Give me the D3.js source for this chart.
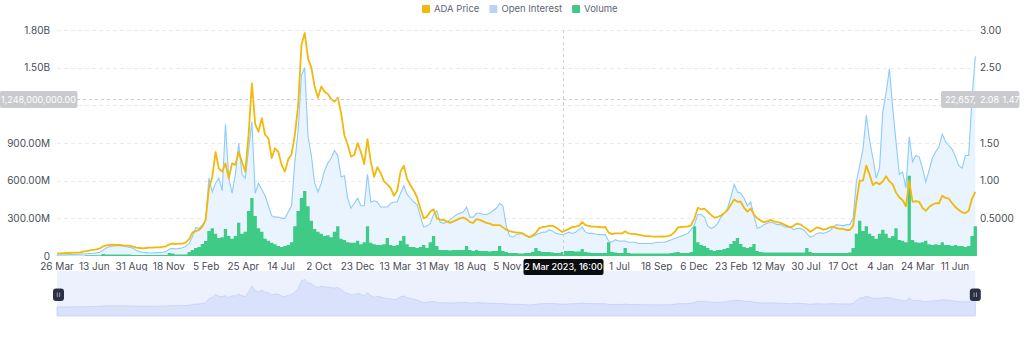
<!DOCTYPE html>
<html>
<head>
<meta charset="utf-8">
<script src="https://cdn.jsdelivr.net/npm/d3@7"></script>
<style>
  html, body { margin: 0; padding: 0; background: #fff; }
  svg { display: block; font-family: Inter, "Noto Sans", sans-serif; }
</style>
</head>
<body>
<svg id="chart" width="1024" height="339"></svg>
<script>
// Weekly samples starting 26 Mar 2020
const startDate = "2020-03-26";
const stepDays = 7;

// ADA price, USD (right axis)
const adaPrice = [
  0.031,0.035,0.037,0.040,0.040,0.044,0.046,0.049,0.058,0.066,
  0.075,0.080,0.088,0.100,0.128,0.140,0.146,0.150,0.146,0.146,
  0.140,0.137,0.137,0.124,0.110,0.106,0.100,0.106,0.110,0.110,
  0.115,0.115,0.120,0.128,0.155,0.164,0.160,0.164,0.164,0.180,
  0.225,0.310,0.330,0.345,0.390,0.480,0.900,1.050,1.38,1.16,
  1.12,1.23,1.03,1.23,1.21,1.38,1.25,1.12,1.61,2.29,
  1.75,1.65,1.83,1.61,1.56,1.30,1.43,1.38,1.21,1.12,
  1.28,1.35,1.60,2.00,2.80,2.96,2.62,2.50,2.25,2.10,
  2.25,2.18,2.15,2.08,2.05,2.10,1.90,1.60,1.48,1.32,
  1.34,1.50,1.38,1.22,1.55,1.25,1.05,1.18,1.10,0.99,
  0.95,0.90,0.80,0.87,1.12,1.20,1.02,0.94,0.87,0.78,
  0.63,0.50,0.52,0.59,0.62,0.50,0.48,0.48,0.46,0.44,
  0.46,0.48,0.50,0.51,0.49,0.45,0.44,0.49,0.48,0.46,
  0.44,0.43,0.41,0.41,0.41,0.38,0.35,0.33,0.32,0.31,
  0.31,0.30,0.27,0.25,0.27,0.31,0.37,0.385,0.39,0.40,
  0.40,0.38,0.35,0.32,0.34,0.36,0.385,0.39,0.40,0.45,
  0.41,0.40,0.39,0.39,0.385,0.38,0.385,0.31,0.29,0.30,
  0.30,0.30,0.33,0.30,0.295,0.29,0.285,0.275,0.265,0.265,
  0.26,0.257,0.257,0.26,0.257,0.265,0.28,0.32,0.38,0.385,
  0.39,0.39,0.41,0.50,0.64,0.62,0.63,0.59,0.545,0.51,
  0.52,0.535,0.57,0.61,0.68,0.75,0.72,0.72,0.64,0.59,
  0.63,0.55,0.50,0.47,0.45,0.46,0.48,0.46,0.45,0.44,
  0.42,0.40,0.38,0.40,0.43,0.42,0.39,0.36,0.32,0.35,
  0.38,0.37,0.35,0.36,0.38,0.39,0.37,0.36,0.36,0.345,
  0.345,0.40,0.72,1.00,1.00,1.20,1.08,0.94,0.98,0.95,
  0.99,1.06,0.99,0.95,0.84,0.78,0.74,0.66,1.00,0.72,
  0.73,0.72,0.64,0.60,0.65,0.68,0.70,0.70,0.80,0.77,
  0.76,0.70,0.65,0.61,0.58,0.57,0.60,0.76,0.85
];

// Open interest, billions of USD (left axis)
const openInterestB = [
  0.008,0.008,0.010,0.010,0.012,0.012,0.014,0.015,0.016,0.018,
  0.020,0.022,0.025,0.030,0.048,0.066,0.074,0.080,0.082,0.082,
  0.080,0.074,0.069,0.061,0.045,0.035,0.030,0.027,0.024,0.024,
  0.027,0.027,0.030,0.035,0.056,0.061,0.056,0.061,0.066,0.077,
  0.100,0.154,0.226,0.220,0.247,0.287,0.620,0.51,0.58,0.62,
  0.52,1.05,0.62,0.50,0.65,0.90,0.65,0.62,0.85,1.07,
  0.50,0.58,0.53,0.48,0.40,0.32,0.31,0.31,0.30,0.30,
  0.35,0.40,0.75,1.00,1.44,1.50,0.95,0.80,0.58,0.51,
  0.58,0.68,0.74,0.78,0.84,0.80,0.63,0.64,0.46,0.38,
  0.42,0.46,0.40,0.40,0.65,0.43,0.44,0.43,0.39,0.39,
  0.39,0.42,0.43,0.43,0.50,0.56,0.49,0.46,0.43,0.41,
  0.32,0.23,0.24,0.26,0.33,0.36,0.27,0.26,0.27,0.29,
  0.31,0.33,0.34,0.35,0.39,0.31,0.31,0.34,0.34,0.33,
  0.33,0.34,0.36,0.38,0.42,0.40,0.24,0.16,0.15,0.17,
  0.175,0.18,0.165,0.15,0.155,0.17,0.18,0.19,0.19,0.21,
  0.20,0.18,0.175,0.17,0.18,0.19,0.18,0.19,0.21,0.23,
  0.19,0.18,0.18,0.175,0.17,0.17,0.17,0.12,0.11,0.13,
  0.12,0.12,0.12,0.11,0.11,0.11,0.10,0.10,0.10,0.10,
  0.10,0.105,0.11,0.11,0.11,0.12,0.13,0.14,0.15,0.16,
  0.17,0.18,0.21,0.25,0.33,0.33,0.31,0.24,0.22,0.23,
  0.26,0.31,0.34,0.38,0.47,0.57,0.51,0.50,0.46,0.40,
  0.43,0.32,0.22,0.23,0.25,0.26,0.27,0.26,0.25,0.25,
  0.235,0.23,0.23,0.21,0.22,0.22,0.21,0.18,0.15,0.16,
  0.18,0.185,0.18,0.19,0.20,0.23,0.25,0.245,0.24,0.25,
  0.25,0.30,0.59,0.72,0.85,1.12,0.92,0.78,0.62,0.70,
  1.15,1.30,1.49,1.18,0.91,0.65,0.67,0.54,0.95,0.75,
  0.80,0.79,0.70,0.59,0.68,0.78,0.83,0.87,0.97,0.91,
  0.88,0.85,0.79,0.72,0.70,0.80,0.80,1.25,1.59
];

// Traded volume, billions of USD (own hidden axis)
const volumeB = [
  0.04,0.04,0.04,0.04,0.04,0.04,0.04,0.04,0.04,0.10,
  0.10,0.10,0.10,0.10,0.29,0.22,0.22,0.22,0.22,0.22,
  0.22,0.22,0.22,0.15,0.15,0.15,0.15,0.15,0.15,0.15,
  0.15,0.15,0.15,0.15,0.43,0.36,0.22,0.22,0.22,0.22,
  0.58,0.87,1.16,1.30,1.74,2.17,3.6,4.0,3.2,2.6,
  2.7,3.9,2.9,2.5,2.9,4.8,3.2,3.5,6.5,8.4,
  5.8,4.0,3.5,2.5,2.2,1.9,1.7,1.45,1.3,1.45,
  1.6,2.0,4.3,6.5,8.4,9.4,7.2,5.1,3.9,3.5,
  3.2,2.9,3.0,2.7,3.5,4.3,2.5,2.3,2.0,1.9,
  1.9,2.2,1.7,2.0,4.3,1.9,1.7,1.6,1.6,1.7,
  2.6,1.6,1.45,1.6,2.2,2.9,1.7,1.3,1.3,1.15,
  1.3,1.6,1.15,2.0,2.9,1.45,0.87,0.87,0.87,0.80,
  0.87,0.87,0.87,0.87,1.45,0.87,0.72,0.87,0.72,0.72,
  0.72,0.65,0.72,0.72,1.45,0.72,0.58,0.43,0.43,0.43,
  0.36,0.36,0.43,0.43,0.58,1.15,0.72,0.58,0.58,0.58,
  0.50,0.43,0.43,0.58,0.72,0.72,0.72,0.65,0.65,1.00,
  0.58,0.50,0.43,0.43,0.43,0.43,0.43,2.0,0.58,0.50,
  0.43,0.43,1.15,0.43,0.36,0.36,0.36,0.36,0.36,0.36,
  0.36,0.36,0.36,0.36,0.36,0.36,0.43,0.50,0.58,0.43,
  0.43,0.43,0.58,4.3,2.0,1.6,1.45,1.15,0.87,0.72,
  0.87,0.87,1.0,1.15,1.74,2.17,2.6,1.74,1.3,1.15,
  1.3,1.74,0.72,0.58,0.50,0.50,0.50,0.50,0.50,0.50,
  0.50,0.50,0.50,0.50,0.50,0.50,0.50,1.15,0.58,0.43,
  0.43,0.43,0.43,0.43,0.43,0.43,0.43,0.43,0.43,0.43,
  0.50,1.15,3.2,5.1,3.6,4.3,3.2,2.9,2.5,3.2,
  3.8,3.2,2.6,2.9,4.0,2.3,2.2,2.0,11.6,2.3,
  2.0,1.9,2.0,2.2,1.7,1.6,1.7,1.6,2.0,1.6,
  1.6,1.45,1.6,1.45,1.45,1.3,1.45,2.9,4.3
];

// Axis ticks
const xTickDates = [
  "2020-03-26","2020-06-13","2020-08-31","2020-11-18","2021-02-05","2021-04-25",
  "2021-07-14","2021-10-02","2021-12-23","2022-03-13","2022-05-31","2022-08-18",
  "2022-11-05","2023-01-23","2023-04-12","2023-07-01","2023-09-18","2023-12-06",
  "2024-02-23","2024-05-12","2024-07-30","2024-10-17","2025-01-04","2025-03-24",
  "2025-06-11"
];
const leftTicks = [0, 3e8, 6e8, 9e8, 1.2e9, 1.5e9, 1.8e9];
const rightTicks = [0.5, 1.0, 1.5, 2.0, 2.5, 3.0];

// Legend
const legendItems = [
  { name: "ADA Price", color: "#F0B90B" },
  { name: "Open Interest", color: "#B9D3FA" },
  { name: "Volume", color: "#3FCB86" }
];

// Axis pointer state
const pointerDate = "2023-03-02T16:00";
const pointerOpenInterest = 1.248e9;
const pointerExtraReading = "1.47";

const svg = d3.select("#chart");
const parseDay = d3.utcParse("%Y-%m-%d");
const t0 = parseDay(startDate);
const dates = adaPrice.map((_, i) => d3.utcDay.offset(t0, i * stepDays));

const plotL = 57, plotR = 975.3, plotT = 30, plotB = 256;

const x = d3.scaleUtc().domain([t0, dates[dates.length - 1]]).range([plotL, plotR]);
const yOI = d3.scaleLinear().domain([0, 1.8e9]).range([plotB, plotT]);
const yPrice = d3.scaleLinear().domain([0, 3]).range([plotB, plotT]);
const yVol = d3.scaleLinear().domain([0, 32.6785e9]).range([plotB, plotT]);

const fmtLeft = v => v === 0 ? "0" : v >= 1e9 ? (v / 1e9).toFixed(2) + "B" : (v / 1e6).toFixed(2) + "M";
const fmtRight = v => v < 1 ? v.toFixed(4) : v.toFixed(2);
const textCol = "#474D57";

const pDate = d3.utcParse("%Y-%m-%dT%H:%M")(pointerDate);
const pyExact = yOI(pointerOpenInterest);
const px = Math.round(x(pDate)) + 0.5;
const py = Math.round(pyExact) + 0.5;
const tipW = 80;

// Grid lines
svg.append("g").selectAll("line").data(leftTicks.filter(d => d > 0)).join("line")
  .attr("x1", plotL).attr("x2", plotR)
  .attr("y1", d => Math.round(yOI(d)) + 0.5).attr("y2", d => Math.round(yOI(d)) + 0.5)
  .attr("stroke", "#E9EBEE").attr("stroke-dasharray", "4,3");

// Axis labels (those under the pointer labels are hidden)
const clearOfPointer = yv => Math.abs(yv - pyExact) > 10;
svg.append("g").selectAll("text").data(leftTicks.filter(d => clearOfPointer(yOI(d)))).join("text")
  .attr("x", 50).attr("y", d => yOI(d)).attr("dy", "0.35em")
  .attr("text-anchor", "end").attr("font-size", 10).attr("fill", textCol)
  .text(fmtLeft);

svg.append("g").selectAll("text").data(rightTicks.filter(d => clearOfPointer(yPrice(d)))).join("text")
  .attr("x", 980).attr("y", d => yPrice(d)).attr("dy", "0.35em")
  .attr("text-anchor", "start").attr("font-size", 10).attr("fill", textCol)
  .text(fmtRight);

const fmtTick = d3.utcFormat("%-d %b");
svg.append("g").selectAll("text")
  .data(xTickDates.map(parseDay).filter(d => Math.abs(x(d) - px) > tipW / 2 + 4)).join("text")
  .attr("x", d => x(d)).attr("y", 266).attr("dy", "0.35em")
  .attr("text-anchor", "middle").attr("font-size", 10).attr("fill", textCol)
  .text(fmtTick);

const series = dates.map((d, i) => ({ d, p: adaPrice[i], oi: openInterestB[i] * 1e9, v: volumeB[i] * 1e9 }));
const half = (x(dates[1]) - x(dates[0])) / 2;

// Open interest fill
svg.append("path").datum(series)
  .attr("d", d3.area().x(s => x(s.d)).y0(plotB).y1(s => yOI(s.oi)))
  .attr("fill", "#EAF4FE");

// Volume columns, one per week, drawn as a stepped band
const volPts = [];
series.forEach(s => { volPts.push([x(s.d) - half, s.v]); volPts.push([x(s.d) + half, s.v]); });
svg.append("path").datum(volPts)
  .attr("d", d3.area().x(p => p[0]).y0(plotB).y1(p => yVol(p[1])).curve(d3.curveStepAfter))
  .attr("fill", "#3FCB86");

// Open interest line
svg.append("path").datum(series)
  .attr("d", d3.line().x(s => x(s.d)).y(s => yOI(s.oi)))
  .attr("fill", "none").attr("stroke", "#8CCBFB").attr("stroke-width", 1.1);

// Price line
svg.append("path").datum(series)
  .attr("d", d3.line().x(s => x(s.d)).y(s => yPrice(s.p)))
  .attr("fill", "none").attr("stroke", "#F0B90B").attr("stroke-width", 1.8)
  .attr("stroke-linejoin", "round");

// Legend
const legend = svg.append("g");
let lx = 422;
legendItems.forEach(item => {
  legend.append("rect").attr("x", lx).attr("y", 5).attr("width", 8).attr("height", 8)
    .attr("rx", 1).attr("fill", item.color);
  const t = legend.append("text").attr("x", lx + 12).attr("y", 9).attr("dy", "0.35em")
    .attr("font-size", 9.5).attr("fill", "#5E6673").text(item.name);
  lx += 12 + t.node().getComputedTextLength() + 10;
});

// Axis pointer lines
svg.append("line").attr("x1", px).attr("x2", px).attr("y1", plotT).attr("y2", plotB)
  .attr("stroke", "#CDCFD3").attr("stroke-dasharray", "3,3");
svg.append("line").attr("x1", 77).attr("x2", 941).attr("y1", py).attr("y2", py)
  .attr("stroke", "#CDCFD3").attr("stroke-dasharray", "3,3");

// Axis pointer value labels
const labelFill = "#C9CBCE";
const fmtFull = d3.format(",.2f");
svg.append("rect").attr("x", 0).attr("y", py - 8.5).attr("width", 77.5).attr("height", 17)
  .attr("rx", 2).attr("fill", labelFill);
svg.append("text").attr("x", 38.5).attr("y", py).attr("dy", "0.35em").attr("text-anchor", "middle")
  .attr("font-size", 9).attr("fill", "#fff").text(fmtFull(pointerOpenInterest));

// Right-hand labels stack over one another; each keeps only what fits before the next one
const fracAtPointer = pointerOpenInterest / yOI.domain()[1];
const rightLabels = [
  { x: 945, limit: 978, text: fmtFull(yVol.domain()[1] * fracAtPointer) },
  { x: 980, limit: 1001.5, text: (yPrice.domain()[1] * fracAtPointer).toFixed(2) },
  { x: 1002.5, limit: 1024, text: pointerExtraReading }
];
svg.append("rect").attr("x", 941).attr("y", py - 8.5).attr("width", 78.5).attr("height", 17)
  .attr("rx", 2).attr("fill", labelFill);
rightLabels.forEach(l => {
  const t = svg.append("text").attr("x", l.x).attr("y", py).attr("dy", "0.35em")
    .attr("font-size", 9).attr("fill", "#fff").text(l.text);
  let s = l.text;
  while (s.length > 1 && l.x + t.node().getComputedTextLength() > l.limit) {
    s = s.slice(0, -1);
    t.text(s);
  }
});

// Data zoom slider
const slT = 271, slB = 316;
svg.append("rect").attr("x", plotL).attr("y", slT).attr("width", plotR - plotL).attr("height", slB - slT)
  .attr("fill", "#EDF1FD");
const yMini = d3.scaleLinear().domain(d3.extent(adaPrice)).range([307, 279.5]);
svg.append("path").datum(series)
  .attr("d", d3.area().x(s => x(s.d)).y0(slB).y1(s => yMini(s.p)))
  .attr("fill", "#D9E2FA").attr("stroke", "#C3D0F6").attr("stroke-width", 0.8);

[plotL + 1.5, plotR].forEach(hx => {
  svg.append("rect").attr("x", hx - 5.5).attr("y", 288.5).attr("width", 11).attr("height", 12.5)
    .attr("rx", 3).attr("fill", "#2B3142");
  [-1.2, 1.2].forEach(o => svg.append("line")
    .attr("x1", hx + o).attr("x2", hx + o).attr("y1", 292.5).attr("y2", 297)
    .attr("stroke", "#B7BDC6").attr("stroke-width", 0.8));
});

// Pointer time label
const fmtPointer = d3.utcFormat("%-d %b %Y, %H:%M");
svg.append("rect").attr("x", px - tipW / 2).attr("y", 259).attr("width", tipW).attr("height", 16)
  .attr("rx", 2).attr("fill", "#0B0E11");
svg.append("text").attr("x", px).attr("y", 267).attr("dy", "0.35em").attr("text-anchor", "middle")
  .attr("font-size", 9).attr("font-weight", 500).attr("fill", "#fff").text(fmtPointer(pDate));
</script>
</body>
</html>
